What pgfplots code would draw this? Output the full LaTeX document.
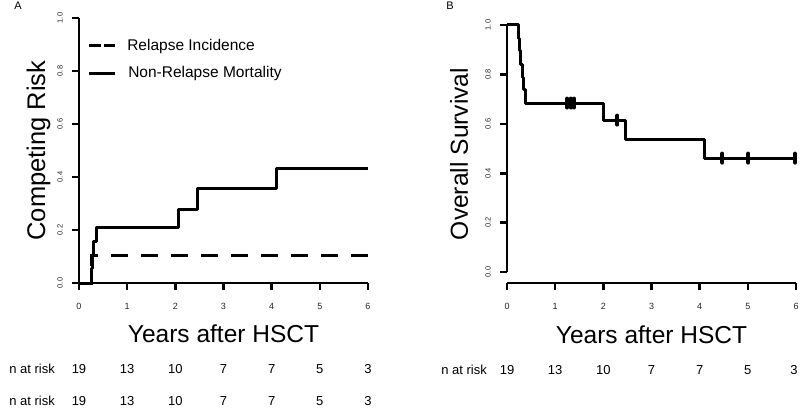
\documentclass[border=0pt]{standalone}
\usepackage{pgfplots}
\pgfplotsset{compat=1.18}
\usepackage{fontspec}
\setmainfont{Liberation Sans}
\setsansfont{Liberation Sans}
\newcommand\fsz[1]{\fontsize{#1}{#1}\selectfont}

\pgfplotsset{
  km/.style={
    scale only axis, width=289pt, xmin=0, xmax=6,
    axis x line=bottom, axis y line=left, axis line style={draw=none},
    xtick={0,1,2,3,4,5,6}, ytick={0,0.2,0.4,0.6,0.8,1.0},
    tick align=outside, major tick length=6pt,
    major tick style={draw=none},
    /pgf/number format/assume math mode=true,
    yticklabel style={/pgf/number format/fixed, /pgf/number format/fixed zerofill,
      /pgf/number format/precision=1, rotate=90, anchor=south, inner sep=0pt,
      font=\fsz{7.5}, text=black!85},
    xticklabel style={font=\fsz{9}, text=black!85, anchor=north, inner sep=0pt},
    yticklabel shift=10pt, xticklabel shift=13.7pt,
  },
  legend image code/.code={\draw[#1] (0pt,0pt) -- (26pt,0pt);},
}

\begin{document}
\begin{tikzpicture}
\path[use as bounding box] (0pt,0pt) rectangle (800pt,407pt);
% ---------------- Panel A ----------------
\begin{axis}[km, at={(79pt,124pt)}, anchor=south west, height=265pt, ymin=0, ymax=1, clip=false,
  xlabel={Years after HSCT}, ylabel={Competing Risk},
  every axis x label/.style={at={(axis description cs:0.5,-0.2264)}, anchor=base, font=\fsz{24.5}},
  every axis y label/.style={at={(axis description cs:-0.1176,0.5)}, anchor=base, rotate=90, font=\fsz{25.5}},
  legend style={at={(axis description cs:0.028,0.929)}, anchor=north west, draw=none, fill=none,
    font=\fsz{15.5}, row sep=11pt, inner sep=0pt, legend cell align=left},
]
\addlegendimage{black, line width=3pt, dash pattern=on 12pt off 3.5pt}
\addlegendentry{\hspace{9pt}Relapse Incidence}
\addlegendimage{black, line width=3pt}
\addlegendentry{\hspace{10pt}Non-Relapse Mortality}
% axis lines and ticks
\addplot[black, line width=2.6pt, forget plot] coordinates {(0,0) (6,0)};
\addplot[black, line width=2.6pt, forget plot] coordinates {(0,0) (0,1)};
\addplot[black, only marks, mark=|, mark size=3.5pt, mark options={yshift=-3.5pt, line width=2.6pt}, forget plot]
  coordinates {(0,0) (1,0) (2,0) (3,0) (4,0) (5,0) (6,0)};
\addplot[black, only marks, mark=-, mark size=3.5pt, mark options={xshift=-3.5pt, line width=2.6pt}, forget plot]
  coordinates {(0,0) (0,0.2) (0,0.4) (0,0.6) (0,0.8) (0,1)};
% data
\addplot[black, line width=3pt, dash pattern=on 17pt off 13pt, const plot, forget plot]
  coordinates {(0,0) (0.26,0.105) (6,0.105)};
\addplot[black, line width=3pt, const plot, line join=round, forget plot]
  coordinates {(0,0) (0.25,0.053) (0.28,0.105) (0.31,0.158) (0.37,0.211) (2.06,0.279) (2.46,0.355) (4.11,0.433) (6,0.433)};
\end{axis}
% ---------------- Panel B ----------------
\begin{axis}[km, at={(507pt,124pt)}, anchor=south west, height=258pt, ymin=-0.0445, ymax=1, clip=false,
  xlabel={Years after HSCT}, ylabel={Overall Survival},
  every axis x label/.style={at={(axis description cs:0.5,-0.2326)}, anchor=base, font=\fsz{24.5}},
  every axis y label/.style={at={(axis description cs:-0.135,0.5)}, anchor=base, rotate=90, font=\fsz{24.6}},
]
% axis lines and ticks
\addplot[black, line width=2.6pt, forget plot] coordinates {(0,-0.0445) (6,-0.0445)};
\addplot[black, line width=2.6pt, forget plot] coordinates {(0,0) (0,1)};
\addplot[black, only marks, mark=|, mark size=3.5pt, mark options={yshift=-3.5pt, line width=2.6pt}, forget plot]
  coordinates {(0,-0.0445) (1,-0.0445) (2,-0.0445) (3,-0.0445) (4,-0.0445) (5,-0.0445) (6,-0.0445)};
\addplot[black, only marks, mark=-, mark size=3.5pt, mark options={xshift=-3.5pt, line width=2.6pt}, forget plot]
  coordinates {(0,0) (0,0.2) (0,0.4) (0,0.6) (0,0.8) (0,1)};
% data
\addplot[black, line width=3pt, const plot, line join=round]
  coordinates {(0,1) (0.23,0.947) (0.26,0.895) (0.29,0.842) (0.32,0.789) (0.35,0.737) (0.38,0.684) (2.01,0.615) (2.46,0.538) (4.09,0.461) (5.98,0.461)};
\addplot[black, only marks, mark=|, mark size=4.5pt, mark options={line width=4pt, line cap=round}]
  coordinates {(1.25,0.684) (1.32,0.684) (1.39,0.684) (2.29,0.615) (4.47,0.461) (5.01,0.461) (5.98,0.461)};
\end{axis}
% ---------------- panel letters ----------------
\node[anchor=base, font=\fsz{11}] at (18pt,397pt) {A};
\node[anchor=base, font=\fsz{11}] at (450pt,397pt) {B};
% ---------------- numbers at risk ----------------
\begin{scope}[every node/.style={anchor=base, font=\fsz{13}, inner sep=0pt}]
\node[anchor=base east] at (55pt,33.7pt) {n at risk};
\node at (79pt,33.7pt) {19}; \node at (127.2pt,33.7pt) {13}; \node at (175.3pt,33.7pt) {10};
\node at (223.5pt,33.7pt) {7}; \node at (271.7pt,33.7pt) {7}; \node at (319.8pt,33.7pt) {5}; \node at (368pt,33.7pt) {3};
\node[anchor=base east] at (55pt,1.5pt) {n at risk};
\node at (79pt,1.5pt) {19}; \node at (127.2pt,1.5pt) {13}; \node at (175.3pt,1.5pt) {10};
\node at (223.5pt,1.5pt) {7}; \node at (271.7pt,1.5pt) {7}; \node at (319.8pt,1.5pt) {5}; \node at (368pt,1.5pt) {3};
\node[anchor=base east] at (487pt,33pt) {n at risk};
\node at (507pt,33pt) {19}; \node at (555.2pt,33pt) {13}; \node at (603.3pt,33pt) {10};
\node at (651.5pt,33pt) {7}; \node at (699.7pt,33pt) {7}; \node at (747.8pt,33pt) {5}; \node at (794pt,33pt) {3};
\end{scope}
\end{tikzpicture}
\end{document}
